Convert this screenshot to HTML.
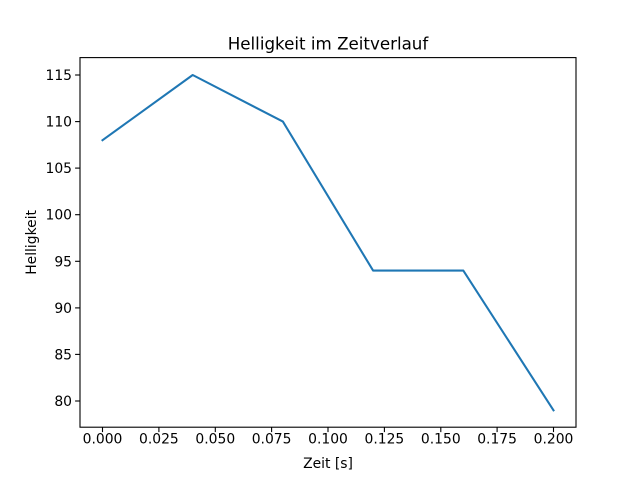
<!DOCTYPE html>
<html><head><meta charset="utf-8"><style>body{margin:0;background:#fff}svg{display:block}</style></head>
<body>
<svg width="640" height="480" xmlns="http://www.w3.org/2000/svg" font-family="'DejaVu Sans', 'Liberation Sans', sans-serif" font-size="13.9">
<rect width="640" height="480" fill="#fff"/>
<polyline fill="none" stroke="#1f77b4" stroke-width="2.08" stroke-linejoin="round" stroke-linecap="square" points="102.5,140.2 192.7,75 282.9,121.6 373.1,270.6 463.3,270.6 553.5,410.3"/>
<rect x="80" y="57.6" width="496" height="369.6" fill="none" stroke="#000" stroke-width="1.1"/>
<g stroke="#000" stroke-width="1.1">
<line x1="102.5" y1="427.2" x2="102.5" y2="432.1"/>
<line x1="158.9" y1="427.2" x2="158.9" y2="432.1"/>
<line x1="215.3" y1="427.2" x2="215.3" y2="432.1"/>
<line x1="271.6" y1="427.2" x2="271.6" y2="432.1"/>
<line x1="328" y1="427.2" x2="328" y2="432.1"/>
<line x1="384.4" y1="427.2" x2="384.4" y2="432.1"/>
<line x1="440.8" y1="427.2" x2="440.8" y2="432.1"/>
<line x1="497.1" y1="427.2" x2="497.1" y2="432.1"/>
<line x1="553.5" y1="427.2" x2="553.5" y2="432.1"/>
<line x1="75.1" y1="75" x2="80" y2="75"/>
<line x1="75.1" y1="121.6" x2="80" y2="121.6"/>
<line x1="75.1" y1="168.1" x2="80" y2="168.1"/>
<line x1="75.1" y1="214.7" x2="80" y2="214.7"/>
<line x1="75.1" y1="261.3" x2="80" y2="261.3"/>
<line x1="75.1" y1="307.9" x2="80" y2="307.9"/>
<line x1="75.1" y1="354.4" x2="80" y2="354.4"/>
<line x1="75.1" y1="401" x2="80" y2="401"/>
</g>
<g text-anchor="middle">
<text x="102.5" y="443.5">0.000</text>
<text x="158.9" y="443.5">0.025</text>
<text x="215.3" y="443.5">0.050</text>
<text x="271.6" y="443.5">0.075</text>
<text x="328" y="443.5">0.100</text>
<text x="384.4" y="443.5">0.125</text>
<text x="440.8" y="443.5">0.150</text>
<text x="497.1" y="443.5">0.175</text>
<text x="553.5" y="443.5">0.200</text>
</g>
<g text-anchor="end">
<text x="72" y="80">115</text>
<text x="72" y="126.6">110</text>
<text x="72" y="173.1">105</text>
<text x="72" y="219.7">100</text>
<text x="72" y="266.3">95</text>
<text x="72" y="312.9">90</text>
<text x="72" y="359.4">85</text>
<text x="72" y="406">80</text>
</g>
<text x="328" y="468" text-anchor="middle">Zeit [s]</text>
<text transform="translate(36,242.4) rotate(-90)" text-anchor="middle">Helligkeit</text>
<text x="328" y="49.5" text-anchor="middle" font-size="16.7">Helligkeit im Zeitverlauf</text>
</svg>
</body></html>
